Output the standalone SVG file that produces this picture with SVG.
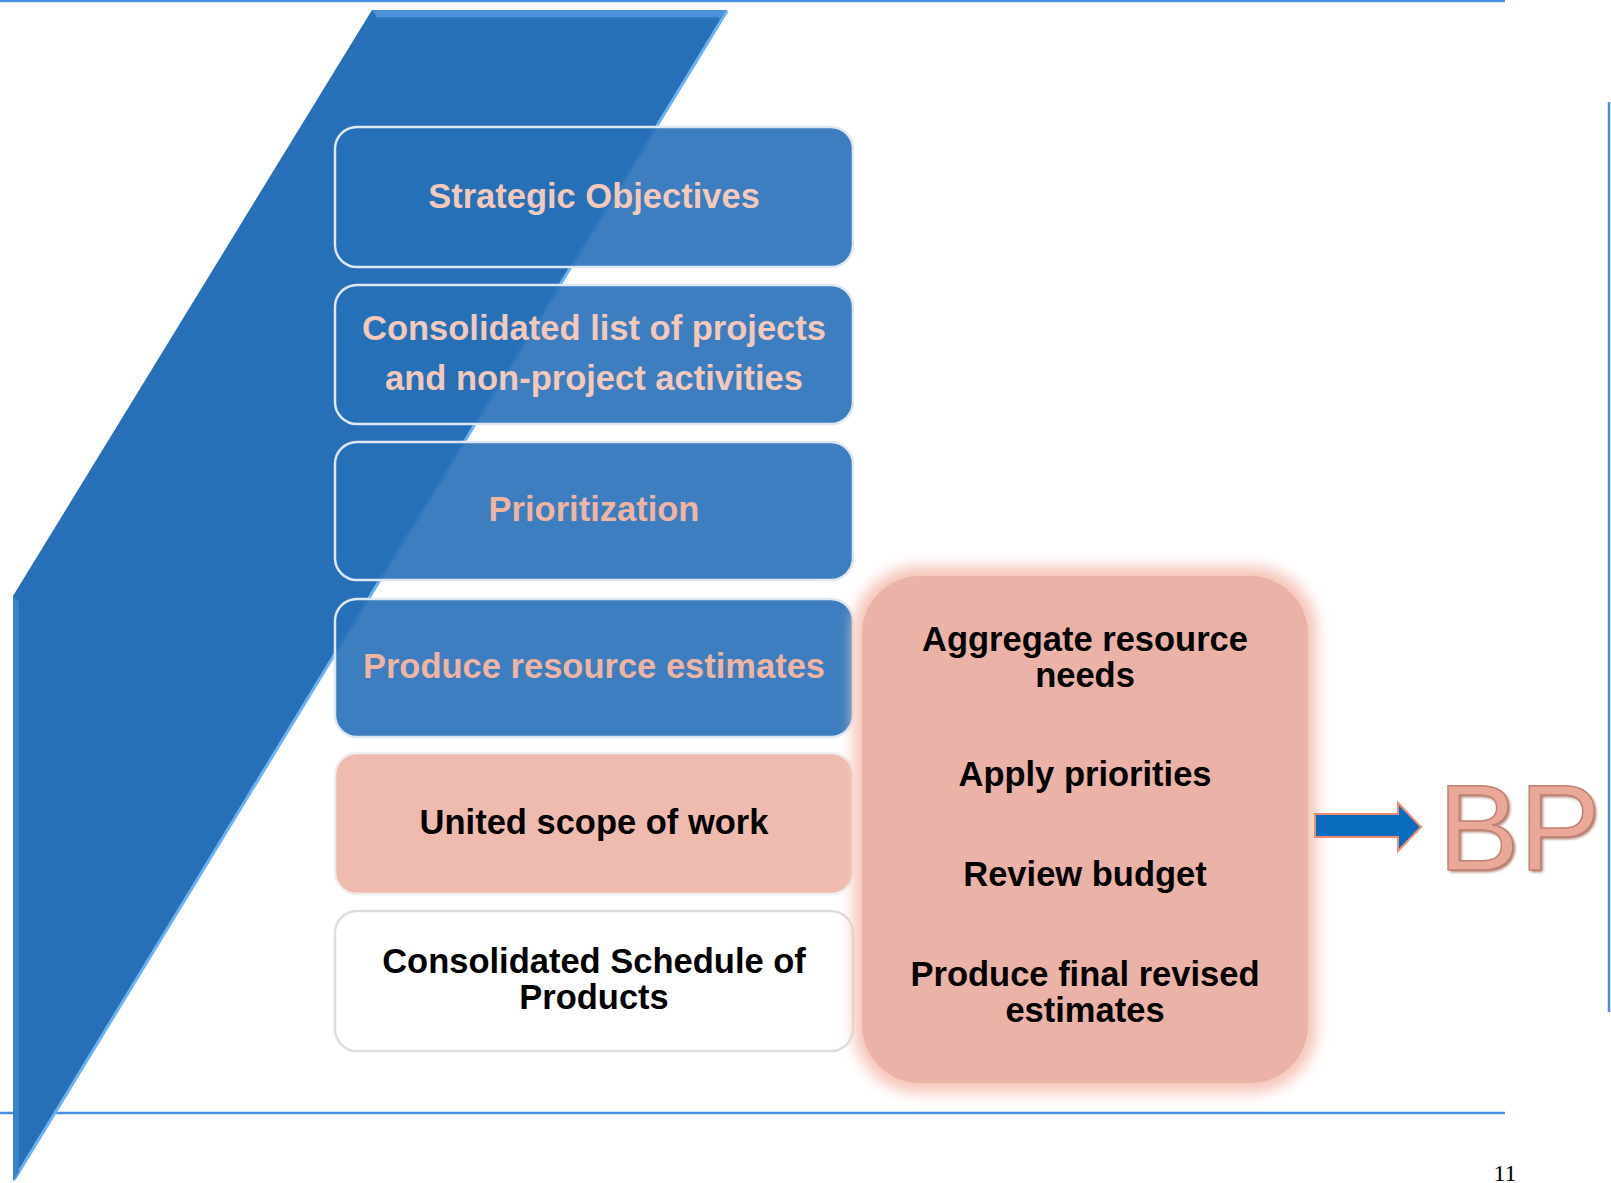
<svg xmlns="http://www.w3.org/2000/svg" width="1611" height="1183" viewBox="0 0 1611 1183">
<style>
.t{font-family:"Liberation Sans",Arial,sans-serif;font-weight:bold;font-size:34.5px;text-anchor:middle}
.pk{fill:#f4c8ba}
.pk2{fill:#f0b4a3}
.bk{fill:#000}
.bluebox{fill:#2770b8;fill-opacity:0.9;stroke:#dfe8f2;stroke-width:2.5}
.rule{stroke:#4a90e2;stroke-width:2.5;fill:none}
</style>
<defs>
<filter id="glow" x="-10%" y="-10%" width="120%" height="120%">
<feGaussianBlur stdDeviation="7"/>
</filter>
<filter id="soft" x="-5%" y="-5%" width="110%" height="110%">
<feGaussianBlur stdDeviation="1.5"/>
</filter>
</defs>
<rect width="1611" height="1183" fill="#ffffff"/>
<g id="rules">
<line class="rule" x1="0" y1="1" x2="1505" y2="1"/>
<line class="rule" x1="0" y1="1113" x2="1505" y2="1113"/>
<line class="rule" x1="1609" y1="102" x2="1609" y2="1012"/>
</g>
<g id="backdrop">
<polygon points="372,10 727,10 13,1181 13,596" fill="#2770b8"/>
<polygon points="372,10 727,10 719,19 378,19" fill="#4b93da"/>
<line x1="378" y1="18" x2="719" y2="18" stroke="#2a6fb3" stroke-width="1.5"/>
<line x1="727" y1="11" x2="14" y2="1180" stroke="#6ab2f2" stroke-width="3"/>
<polygon points="13,596 19,602 19,1172 13,1181" fill="#3a82c8"/>
</g>
<g id="node-strategic">
<rect class="bluebox" x="335" y="127" width="518" height="140" rx="22"/>
<text class="t pk" x="594" y="208">Strategic Objectives</text>
</g>
<g id="node-consolidated-list">
<rect class="bluebox" x="335" y="285" width="518" height="139" rx="22"/>
<text class="t pk" x="594" y="340">Consolidated list of projects</text>
<text class="t pk" x="594" y="390">and non-project activities</text>
</g>
<g id="node-prioritization">
<rect class="bluebox" x="335" y="442" width="518" height="138" rx="22"/>
<text class="t pk2" x="594" y="521">Prioritization</text>
</g>
<g id="node-produce-estimates">
<rect class="bluebox" x="335" y="599" width="518" height="138" rx="22"/>
<text class="t pk2" x="594" y="678">Produce resource estimates</text>
</g>
<g id="node-united-scope">
<rect x="335" y="753" width="518" height="141" rx="22" fill="#f0bbaf" stroke="#eeeeee" stroke-width="2.5"/>
<text class="t bk" x="594" y="834">United scope of work</text>
</g>
<g id="node-schedule">
<rect x="335" y="911" width="518" height="140" rx="22" fill="#ffffff" stroke="#dddddd" stroke-width="2.5"/>
<text class="t bk" x="594" y="973">Consolidated Schedule of</text>
<text class="t bk" x="594" y="1009">Products</text>
</g>
<g id="node-steps">
<rect x="853" y="566" width="464" height="527" rx="66" fill="#f6c6ba" filter="url(#glow)"/>
<rect x="862" y="576" width="446" height="507" rx="58" fill="#ebb2a7"/>
<text class="t bk" x="1085" y="651">Aggregate resource</text>
<text class="t bk" x="1085" y="687">needs</text>
<text class="t bk" x="1085" y="786">Apply priorities</text>
<text class="t bk" x="1085" y="886">Review budget</text>
<text class="t bk" x="1085" y="986">Produce final revised</text>
<text class="t bk" x="1085" y="1022">estimates</text>
</g>
<g id="connectors">
<polygon points="1315,814 1398,814 1398,803 1421,827 1398,851 1398,837 1315,837" fill="#0a6cbf" stroke="#f08a70" stroke-width="2"/>
</g>
<g id="node-bp">
<text x="1438" y="870" font-family="'Liberation Sans',Arial,sans-serif" font-size="122" fill="#a87060" filter="url(#soft)" transform="translate(2,2)">BP</text>
<text x="1438" y="870" font-family="'Liberation Sans',Arial,sans-serif" font-size="122" fill="#e9a898" stroke="#c08272" stroke-width="1.5">BP</text>
</g>
<g id="page-number">
<text x="1505" y="1181" font-family="'Liberation Serif','Times New Roman',serif" font-size="24" text-anchor="middle" fill="#000">11</text>
</g>
</svg>
